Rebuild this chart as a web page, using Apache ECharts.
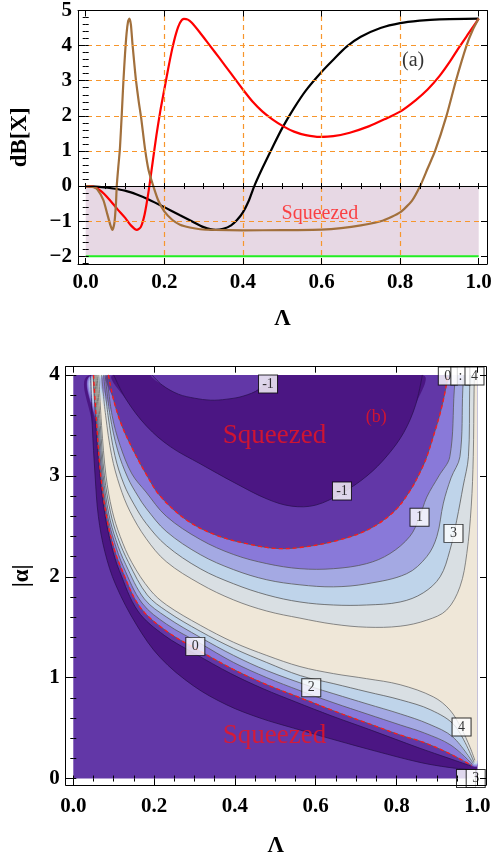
<!DOCTYPE html>
<html>
<head>
<meta charset="utf-8">
<script src="https://cdn.jsdelivr.net/npm/echarts@6/dist/echarts.min.js"></script>
<style>
  html, body { margin: 0; padding: 0; background: #fff; }
  #chart_view { width: 503px; height: 863px; }
</style>
</head>
<body>
<div id="chart_view"></div>
<script>
// ---- panel (a): dB[X] against Lambda ----
var lambdaTicks = [0, 0.2, 0.4, 0.6, 0.8, 1.0];
var dbTicks = [-2, -1, 0, 1, 2, 3, 4, 5];
var gridLambda = [0.2, 0.4, 0.6, 0.8];
var gridDb = [-1, 1, 2, 3, 4];
var squeezeLambda = [0, 1];
var squeezeDb = [-2, 0];

var blackCurve = [[0,0],[0.04,-0.03],[0.07,-0.07],[0.1,-0.13],[0.13,-0.24],[0.16,-0.38],[0.2,-0.6],[0.24,-0.83],[0.27,-1.0],[0.30,-1.17],[0.33,-1.25],[0.35,-1.22],[0.37,-1.12],[0.385,-0.97],[0.40,-0.75],[0.415,-0.42],[0.429,0],[0.45,0.52],[0.473,1.05],[0.50,1.65],[0.53,2.22],[0.56,2.72],[0.60,3.25],[0.63,3.6],[0.664,3.97],[0.7,4.25],[0.75,4.5],[0.8,4.64],[0.85,4.71],[0.9,4.75],[1.0,4.77]];
var redCurve = [[0,0],[0.02,-0.02],[0.04,-0.15],[0.06,-0.38],[0.08,-0.65],[0.10,-0.9],[0.115,-1.12],[0.13,-1.25],[0.14,-1.17],[0.15,-0.8],[0.16,-0.15],[0.17,0.65],[0.18,1.45],[0.19,2.15],[0.20,2.75],[0.21,3.35],[0.22,3.9],[0.23,4.35],[0.24,4.65],[0.25,4.76],[0.26,4.74],[0.27,4.65],[0.29,4.38],[0.316,4.0],[0.34,3.65],[0.37,3.2],[0.40,2.75],[0.425,2.4],[0.45,2.12],[0.475,1.9],[0.503,1.7],[0.53,1.55],[0.56,1.45],[0.596,1.40],[0.63,1.42],[0.672,1.52],[0.72,1.7],[0.76,1.9],[0.8,2.12],[0.84,2.45],[0.87,2.75],[0.9,3.13],[0.927,3.55],[0.95,3.95],[0.975,4.36],[1.0,4.77]];
var brownCurve = [[0,0],[0.02,-0.03],[0.03,-0.1],[0.045,-0.4],[0.055,-0.8],[0.063,-1.12],[0.068,-1.25],[0.073,-1.05],[0.077,-0.5],[0.079,0],[0.083,0.55],[0.087,1.05],[0.092,2.1],[0.096,3.0],[0.100,3.75],[0.104,4.35],[0.108,4.7],[0.111,4.77],[0.115,4.6],[0.119,4.05],[0.124,3.45],[0.128,3.0],[0.135,2.4],[0.141,1.95],[0.151,1.05],[0.16,0.45],[0.172,0],[0.185,-0.42],[0.2,-0.72],[0.22,-0.96],[0.24,-1.1],[0.265,-1.18],[0.291,-1.23],[0.33,-1.25],[0.4,-1.26],[0.5,-1.255],[0.6,-1.24],[0.65,-1.2],[0.7,-1.12],[0.757,-0.98],[0.8,-0.75],[0.83,-0.42],[0.851,0],[0.87,0.5],[0.889,1.0],[0.918,2.0],[0.942,3.0],[0.969,4.0],[0.985,4.45],[1.0,4.77]];
var topNotes = [[0.833, 3.56, '(a)'], [0.596, -0.78, 'Squeezed']];

// ---- panel (b): contours of dB[X] over (Lambda, |alpha|) ----
var alphaTicks = [0, 1, 2, 3, 4];
// lower family, from the top edge down to the lower right corner
var lowM1 = [[0.043,4.0],[0.047,3.5],[0.054,3.0],[0.062,2.6],[0.078,2.25],[0.105,1.92],[0.157,1.52],[0.215,1.20],[0.297,0.92],[0.38,0.73],[0.462,0.60],[0.545,0.50],[0.65,0.38],[0.75,0.27],[0.858,0.16],[0.93,0.11],[0.98,0.09]];
var lowM1b = [[0.049,4.0],[0.056,3.5],[0.066,3.0],[0.079,2.6],[0.095,2.3],[0.114,2.06],[0.16,1.66],[0.225,1.42],[0.30,1.24],[0.39,1.04],[0.47,0.89],[0.55,0.76],[0.64,0.62],[0.73,0.49],[0.858,0.30],[0.93,0.20],[0.984,0.125]];
var low0 = [[0.050,4.0],[0.058,3.5],[0.068,3.0],[0.082,2.6],[0.098,2.32],[0.118,2.09],[0.165,1.70],[0.231,1.46],[0.302,1.29],[0.397,1.08],[0.479,0.93],[0.562,0.80],[0.645,0.67],[0.727,0.55],[0.81,0.43],[0.866,0.36],[0.93,0.25],[0.986,0.13]];
var low1 = [[0.053,4.0],[0.061,3.5],[0.071,3.0],[0.085,2.6],[0.102,2.34],[0.124,2.1],[0.17,1.74],[0.231,1.53],[0.314,1.34],[0.397,1.15],[0.479,1.00],[0.562,0.87],[0.645,0.75],[0.727,0.64],[0.81,0.53],[0.87,0.45],[0.935,0.33],[0.988,0.14]];
var low2 = [[0.056,4.0],[0.064,3.5],[0.074,3.0],[0.088,2.62],[0.106,2.36],[0.130,2.12],[0.176,1.78],[0.231,1.60],[0.314,1.40],[0.397,1.22],[0.479,1.07],[0.589,0.91],[0.645,0.84],[0.727,0.74],[0.81,0.64],[0.88,0.54],[0.94,0.41],[0.99,0.15]];
var low3 = [[0.059,4.0],[0.067,3.5],[0.077,3.0],[0.092,2.64],[0.110,2.39],[0.137,2.14],[0.183,1.82],[0.231,1.66],[0.314,1.46],[0.397,1.29],[0.479,1.15],[0.562,1.02],[0.645,0.94],[0.727,0.86],[0.81,0.78],[0.885,0.68],[0.945,0.52],[0.992,0.16]];
var low4 = [[0.063,4.0],[0.070,3.5],[0.081,3.0],[0.096,2.66],[0.116,2.40],[0.145,2.14],[0.19,1.87],[0.231,1.72],[0.314,1.52],[0.397,1.35],[0.479,1.22],[0.561,1.11],[0.644,1.04],[0.726,0.99],[0.809,0.93],[0.891,0.81],[0.932,0.68],[0.96,0.50],[0.982,0.31],[0.994,0.18]];
// upper family, U shaped, both ends on the top edge
var up4 = [[0.070,4.0],[0.080,3.6],[0.095,3.2],[0.115,2.9],[0.14,2.65],[0.18,2.38],[0.23,2.15],[0.314,1.93],[0.397,1.77],[0.479,1.66],[0.561,1.59],[0.644,1.53],[0.726,1.50],[0.809,1.51],[0.875,1.57],[0.924,1.67],[0.957,1.90],[0.974,2.23],[0.985,2.70],[0.990,3.19],[0.992,3.85],[0.993,4.0]];
var up3 = [[0.075,4.0],[0.086,3.6],[0.103,3.2],[0.125,2.92],[0.15,2.72],[0.18,2.53],[0.23,2.31],[0.314,2.08],[0.397,1.93],[0.479,1.82],[0.561,1.75],[0.644,1.72],[0.726,1.72],[0.809,1.75],[0.866,1.84],[0.908,2.0],[0.932,2.26],[0.949,2.56],[0.965,2.90],[0.978,3.19],[0.981,3.85],[0.982,4.0]];
var up2 = [[0.079,4.0],[0.091,3.6],[0.11,3.25],[0.135,2.98],[0.16,2.80],[0.18,2.68],[0.23,2.45],[0.314,2.22],[0.397,2.07],[0.479,1.97],[0.561,1.92],[0.644,1.90],[0.726,1.93],[0.825,2.03],[0.875,2.20],[0.90,2.40],[0.916,2.73],[0.935,2.98],[0.957,3.19],[0.964,3.85],[0.966,4.0]];
var up1 = [[0.083,4.0],[0.096,3.6],[0.116,3.3],[0.145,3.02],[0.18,2.84],[0.23,2.60],[0.314,2.37],[0.397,2.22],[0.479,2.13],[0.561,2.08],[0.644,2.08],[0.726,2.13],[0.784,2.23],[0.833,2.40],[0.856,2.58],[0.875,2.79],[0.905,3.0],[0.932,3.19],[0.943,3.85],[0.946,4.0]];
var up0 = [[0.087,4.0],[0.100,3.75],[0.12,3.5],[0.149,3.25],[0.18,3.02],[0.215,2.80],[0.281,2.56],[0.355,2.41],[0.438,2.32],[0.504,2.28],[0.561,2.29],[0.644,2.35],[0.726,2.46],[0.792,2.64],[0.833,2.85],[0.860,3.05],[0.875,3.19],[0.891,3.39],[0.908,3.62],[0.921,3.85],[0.926,4.0]];
var upM1 = [[0.10,4.0],[0.132,3.75],[0.182,3.49],[0.24,3.29],[0.314,3.12],[0.40,2.93],[0.48,2.77],[0.54,2.70],[0.60,2.71],[0.665,2.83],[0.727,3.0],[0.777,3.2],[0.818,3.43],[0.847,3.70],[0.864,4.0]];
var capM1 = [[0.195,4.0],[0.22,3.9],[0.26,3.81],[0.30,3.77],[0.34,3.75],[0.38,3.76],[0.42,3.79],[0.46,3.86],[0.49,4.0]];
var contourLabels = [[0.482,3.91,'-1'],[0.665,2.85,'-1'],[0.857,2.59,'1'],[0.941,2.43,'3'],[0.302,1.31,'0'],[0.589,0.90,'2'],[0.961,0.51,'4'],[0.927,3.99,'0'],[0.958,3.99,':'],[0.993,3.99,'4'],[0.972,0.0,''],[0.996,0.0,'3']];
var bottomNotes = [[0.498,3.40,'Squeezed'],[0.498,0.42,'Squeezed']];
var bNote = [[0.75,3.58,'(b)']];

var cMid = '#6237a7', cDark = '#4b1683', c01 = '#8979d9', c12 = '#a4a9e3',
    c23 = '#bfd4ea', c34 = '#d9dfe3', cHigh = '#efe7d8';
var serif = 'Liberation Serif';

var fillLayers = [
  {kind: 'box', color: cMid},
  {kind: 'low', curve: lowM1, color: cDark},
  {kind: 'low', curve: lowM1b, color: cMid},
  {kind: 'low', curve: low0, color: c01},
  {kind: 'low', curve: low1, color: c12},
  {kind: 'low', curve: low2, color: c23},
  {kind: 'low', curve: low3, color: c34},
  {kind: 'low', curve: low4, color: cHigh},
  {kind: 'up', curve: up4, color: c34},
  {kind: 'up', curve: up3, color: c23},
  {kind: 'up', curve: up2, color: c12},
  {kind: 'up', curve: up1, color: c01},
  {kind: 'up', curve: up0, color: cMid},
  {kind: 'up', curve: upM1, color: cDark},
  {kind: 'up', curve: capM1, color: cMid}
];
var lineLayers = [
  {curve: lowM1, color: '#2a1050'}, {curve: lowM1b, color: '#2a1050'},
  {curve: low0, color: '#555'}, {curve: low1, color: '#555'}, {curve: low2, color: '#555'},
  {curve: low3, color: '#555'}, {curve: low4, color: '#666'},
  {curve: up4, color: '#666'}, {curve: up3, color: '#555'}, {curve: up2, color: '#555'},
  {curve: up1, color: '#555'}, {curve: up0, color: '#555'},
  {curve: upM1, color: '#2a1050'}, {curve: capM1, color: '#2a1050'},
  {curve: low0, color: '#ff1a1a', dash: [4, 3]}, {curve: up0, color: '#ff1a1a', dash: [4, 3]}
];

function stepList(from, to, step) {
  var out = [];
  for (var v = from; v <= to + 1e-9; v += step) out.push(Math.round(v * 1000) / 1000);
  return out;
}

function fmtNum(v) { return v < 0 ? '\u2212' + (-v) : String(v); }

var tickFont = {fontFamily: serif, fontWeight: 'bold', fontSize: 21, color: '#000'};
var nameFont = {fontFamily: serif, fontWeight: 'bold', fontSize: 23, color: '#000'};

// four axes per side pair: labelled major, minor, mirrored major, mirrored minor
function frameAxes(grid, min, max, major, minor, sides, labelCfg, nameCfg) {
  var base = {gridIndex: grid, type: 'value', min: min, max: max, z: 10, splitLine: {show: false}};
  var line = {show: true, onZero: false, lineStyle: {color: '#000', width: 1}};
  return [
    Object.assign({}, base, nameCfg, {position: sides[0], axisLine: line,
      axisTick: {inside: true, length: 6, customValues: major, lineStyle: {color: '#000'}},
      axisLabel: Object.assign({customValues: major}, labelCfg)}),
    Object.assign({}, base, {position: sides[0], axisLine: {show: false},
      axisTick: {inside: true, length: 3, customValues: minor, lineStyle: {color: '#000'}}, axisLabel: {show: false}}),
    Object.assign({}, base, {position: sides[1], axisLine: line,
      axisTick: {inside: true, length: 6, customValues: major, lineStyle: {color: '#000'}}, axisLabel: {show: false}}),
    Object.assign({}, base, {position: sides[1], axisLine: {show: false},
      axisTick: {inside: true, length: 3, customValues: minor, lineStyle: {color: '#000'}}, axisLabel: {show: false}})
  ];
}

function plotBox(api) {
  var a = api.coord([0, 0]), b = api.coord([1, 4]);
  return [[Math.min(a[0], b[0]), Math.min(a[1], b[1])], [Math.max(a[0], b[0]), Math.max(a[1], b[1])]];
}

function renderFill(params, api) {
  var idx = api.value(2);
  var layer = fillLayers[idx];
  var pts, smooth = 0.35;
  if (layer.kind === 'box') { pts = [[0, 0], [1, 0], [1, 4], [0, 4]]; smooth = 0; }
  else if (layer.kind === 'low') {
    var e = layer.curve[layer.curve.length - 1];
    pts = layer.curve.concat([[1, e[1]], [1, 4]]);
  } else pts = layer.curve.slice();
  return {
    type: 'polygon', z2: idx,
    shape: {points: pts.map(function (p) { return api.coord(p); }), smooth: smooth, smoothConstraint: plotBox(api)},
    style: {fill: layer.color}
  };
}

function renderLine(params, api) {
  var idx = api.value(2);
  var layer = lineLayers[idx];
  return {
    type: 'polyline', z2: 100 + idx,
    shape: {points: layer.curve.map(function (p) { return api.coord(p); }), smooth: 0.35, smoothConstraint: plotBox(api)},
    style: {fill: null, stroke: layer.color, lineWidth: layer.dash ? 1.3 : 0.9, lineDash: layer.dash || null, opacity: layer.dash ? 1 : 0.85}
  };
}

function renderBand(params, api) {
  var p0 = api.coord([squeezeLambda[0], squeezeDb[1]]);
  var p1 = api.coord([squeezeLambda[1], squeezeDb[0]]);
  return {type: 'rect', shape: {x: p0[0], y: p0[1], width: p1[0] - p0[0], height: p1[1] - p0[1]}, style: {fill: '#e7d8e4'}};
}

var myChart = echarts.init(document.getElementById('chart_view'), null, {renderer: 'canvas'});

var xAxes = [].concat(
  frameAxes(0, -0.0196, 1.0211, lambdaTicks, stepList(0, 1, 0.05), ['bottom', 'top'],
    Object.assign({margin: 8, formatter: function (v) { return v.toFixed(1); }}, tickFont),
    {name: '\u039b', nameLocation: 'middle', nameGap: 44, nameTextStyle: nameFont}),
  frameAxes(1, -0.0188, 1.0215, lambdaTicks, stepList(0, 1, 0.05), ['bottom', 'top'],
    Object.assign({margin: 11, formatter: function (v) { return v.toFixed(1); }}, tickFont),
    {name: '\u039b', nameLocation: 'middle', nameGap: 50, nameTextStyle: nameFont})
);
var yAxes = [].concat(
  frameAxes(0, -2.22, 5, dbTicks, stepList(-2.2, 5, 0.2), ['left', 'right'],
    Object.assign({margin: 6, formatter: fmtNum}, tickFont),
    {name: 'dB[X]', nameLocation: 'middle', nameGap: 46, nameRotate: 90, nameTextStyle: nameFont}),
  frameAxes(1, -0.064, 4.082, alphaTicks, stepList(0, 4, 0.2), ['left', 'right'],
    Object.assign({margin: 6, formatter: fmtNum}, tickFont),
    {name: '|\u03b1|', nameLocation: 'middle', nameGap: 32, nameRotate: 90, nameTextStyle: nameFont})
);

var option = {
  animation: false,
  backgroundColor: '#fff',
  grid: [
    {left: 78, top: 10, width: 409, height: 254, show: false},
    {left: 65.7, top: 366.7, width: 420.3, height: 418.3, show: false}
  ],
  xAxis: xAxes,
  yAxis: yAxes,
  series: [
    {type: 'custom', xAxisIndex: 0, yAxisIndex: 0, z: 1, silent: true, renderItem: renderBand, data: [[0.5, -1]]},
    {
      type: 'line', xAxisIndex: 0, yAxisIndex: 0, z: 2, data: [], silent: true,
      markLine: {
        silent: true, symbol: 'none', label: {show: false},
        lineStyle: {color: '#f7962c', type: [5, 4], width: 1.2},
        data: gridLambda.map(function (v) { return {xAxis: v}; })
          .concat(gridDb.map(function (v) { return {yAxis: v}; }))
          .concat([{yAxis: 0, lineStyle: {color: '#000', type: 'solid', width: 1}}])
      }
    },
    {type: 'line', xAxisIndex: 0, yAxisIndex: 0, z: 3, symbol: 'none', silent: true,
      lineStyle: {color: '#22ee22', width: 2}, data: [[squeezeLambda[0], squeezeDb[0]], [squeezeLambda[1], squeezeDb[0]]]},
    {type: 'line', xAxisIndex: 0, yAxisIndex: 0, z: 4, symbol: 'none', smooth: 0.25, silent: true,
      lineStyle: {color: '#000', width: 2.2}, data: blackCurve},
    {type: 'line', xAxisIndex: 0, yAxisIndex: 0, z: 4, symbol: 'none', smooth: 0.25, silent: true,
      lineStyle: {color: '#ff0000', width: 2.2}, data: redCurve},
    {type: 'line', xAxisIndex: 0, yAxisIndex: 0, z: 4, symbol: 'none', smooth: 0.2, silent: true,
      lineStyle: {color: '#a2703c', width: 2.2}, data: brownCurve},
    {type: 'scatter', xAxisIndex: 0, yAxisIndex: 0, z: 5, symbolSize: 1, silent: true,
      itemStyle: {color: 'transparent'},
      data: topNotes.map(function (d) {
        var sq = d[2] === 'Squeezed';
        return {value: d, label: {color: sq ? '#ff1a1a' : '#000', fontSize: 20}};
      }),
      label: {show: true, position: 'inside', fontFamily: serif, formatter: function (p) { return p.value[2]; }}
    },
    // panel (b)
    {type: 'custom', xAxisIndex: 4, yAxisIndex: 4, z: 1, clip: true, silent: true, renderItem: renderFill,
      data: fillLayers.map(function (l, i) { return [0.5, 2, i]; })},
    {type: 'custom', xAxisIndex: 4, yAxisIndex: 4, z: 2, clip: true, silent: true, renderItem: renderLine,
      data: lineLayers.map(function (l, i) { return [0.5, 2, i]; })},
    {type: 'scatter', xAxisIndex: 4, yAxisIndex: 4, z: 6, symbol: 'rect', symbolSize: [19, 18], silent: true,
      itemStyle: {color: '#fff', borderColor: '#000', borderWidth: 1}, data: contourLabels,
      label: {show: true, position: 'inside', fontFamily: serif, fontSize: 14, color: '#000',
        formatter: function (p) { return p.value[2]; }}},
    {type: 'scatter', xAxisIndex: 4, yAxisIndex: 4, z: 6, symbolSize: 1, silent: true,
      itemStyle: {color: 'transparent'}, data: bottomNotes,
      label: {show: true, position: 'inside', fontFamily: serif, fontSize: 27, color: '#f0141e',
        formatter: function (p) { return p.value[2]; }}},
    {type: 'scatter', xAxisIndex: 4, yAxisIndex: 4, z: 6, symbolSize: 1, silent: true,
      itemStyle: {color: 'transparent'}, data: bNote,
      label: {show: true, position: 'inside', fontFamily: serif, fontSize: 18, color: '#f0141e',
        formatter: function (p) { return p.value[2]; }}}
  ]
};

myChart.setOption(option);
</script>
</body>
</html>
